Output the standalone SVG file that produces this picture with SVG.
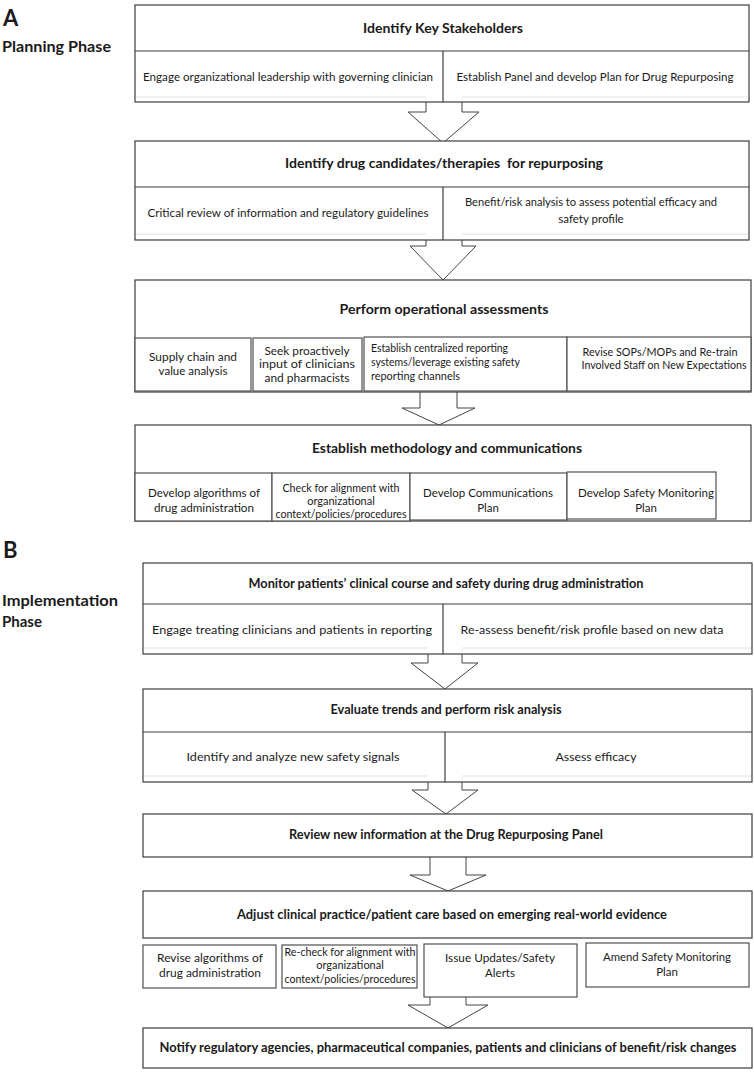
<svg xmlns="http://www.w3.org/2000/svg" width="754" height="1075" viewBox="0 0 754 1075">
<style>
.bx{fill:#fff;stroke:#3c3c3c;stroke-width:1.2}
.sb{fill:#fff;stroke:#505050;stroke-width:1.2}
.ln{stroke:#3c3c3c;stroke-width:1.2;fill:none}
.fl{stroke:#e2e2e2;stroke-width:1;fill:none}
.ar{fill:none;stroke:#444;stroke-width:1}
text{font-family:Lato,"Liberation Sans",Arial,sans-serif;fill:#1a1a1a}
.h{font-size:13px;font-weight:bold;text-anchor:middle}
.t{font-size:11.5px;text-anchor:middle}
.s{font-size:11px;text-anchor:middle}
.l{font-size:11px;text-anchor:start}
.lab{font-size:22px;font-weight:bold}
.ph{font-size:15px;font-weight:bold}
</style>
<rect width="754" height="1075" fill="#fff"/>

<g id="labels">
<text class="lab" x="3" y="26">A</text>
<text class="ph" x="2" y="52" textLength="109" lengthAdjust="spacingAndGlyphs">Planning Phase</text>
<text class="lab" x="3" y="558">B</text>
<text class="ph" x="2" y="606" textLength="116" lengthAdjust="spacingAndGlyphs">Implementation</text>
<text class="ph" x="2" y="627">Phase</text>
</g>

<g id="connectors">
<polyline class="ar" points="426,102 426,112 408,112 443,143 479,112 462,112 462,102"/>
<polyline class="ar" points="426,240 426,246 410,246 443,280 476,246 462,246 462,240"/>
<polyline class="ar" points="420,391 420,408 402,408 439,425 475,408 457,408 457,391"/>
<polyline class="ar" points="428,654 428,663 411,663 445,689 478,663 462,663 462,654"/>
<polyline class="ar" points="428,782 428,790 412,790 446,814 478,790 462,790 462,782"/>
<polyline class="ar" points="430,857 430,875 410,875 448,891 486,875 466,875 466,857"/>
<polyline class="ar" points="430,997 430,1005 408,1005 448,1028 488,1005 466,1005 466,997"/>
</g>

<g id="node-a1">
<rect class="bx" x="135" y="5" width="614" height="97"/>
<line class="ln" x1="135" y1="51" x2="749" y2="51"/>
<line class="ln" x1="443" y1="51" x2="443" y2="102"/>
<line class="fl" x1="136" y1="97" x2="426" y2="97"/>
<line class="fl" x1="462" y1="97" x2="748" y2="97"/>
<text class="h" x="443" y="33" textLength="160" lengthAdjust="spacingAndGlyphs">Identify Key Stakeholders</text>
<text class="t" x="288" y="81" textLength="290" lengthAdjust="spacingAndGlyphs">Engage organizational leadership with governing clinician</text>
<text class="t" x="595" y="81" textLength="277" lengthAdjust="spacingAndGlyphs">Establish Panel and develop Plan for Drug Repurposing</text>
</g>

<g id="node-a2">
<rect class="bx" x="135" y="141" width="614" height="99"/>
<line class="ln" x1="135" y1="187" x2="749" y2="187"/>
<line class="ln" x1="443" y1="187" x2="443" y2="240"/>
<line class="fl" x1="136" y1="234" x2="426" y2="234"/>
<line class="fl" x1="462" y1="234" x2="748" y2="234"/>
<text class="h" x="444" y="168" xml:space="preserve" textLength="318" lengthAdjust="spacingAndGlyphs">Identify drug candidates/therapies  for repurposing</text>
<text class="t" x="288" y="217" textLength="281" lengthAdjust="spacingAndGlyphs">Critical review of information and regulatory guidelines</text>
<text class="t" x="591" y="206" textLength="252" lengthAdjust="spacingAndGlyphs">Benefit/risk analysis to assess potential efficacy and</text>
<text class="t" x="591" y="223">safety profile</text>
</g>

<g id="node-a3">
<rect class="bx" x="135" y="280" width="616" height="112"/>
<text class="h" x="444" y="314" textLength="209" lengthAdjust="spacingAndGlyphs">Perform operational assessments</text>
<g id="node-a3-1">
<rect class="sb" x="135" y="338" width="116" height="53"/>
<text class="t" x="193" y="361" textLength="88" lengthAdjust="spacingAndGlyphs">Supply chain and</text>
<text class="t" x="193" y="375">value analysis</text>
</g>
<g id="node-a3-2">
<rect class="sb" x="253" y="338" width="109" height="53"/>
<text class="t" x="307" y="355" textLength="85" lengthAdjust="spacingAndGlyphs">Seek proactively</text>
<text class="t" x="307" y="368" textLength="96" lengthAdjust="spacingAndGlyphs">input of clinicians</text>
<text class="t" x="307" y="382" textLength="85" lengthAdjust="spacingAndGlyphs">and pharmacists</text>
</g>
<g id="node-a3-3">
<rect class="sb" x="364" y="337" width="203" height="54"/>
<text class="l" x="371" y="352" textLength="137" lengthAdjust="spacingAndGlyphs">Establish centralized reporting</text>
<text class="l" x="371" y="366" textLength="149" lengthAdjust="spacingAndGlyphs">systems/leverage existing safety</text>
<text class="l" x="371" y="380" textLength="89" lengthAdjust="spacingAndGlyphs">reporting channels</text>
</g>
<g id="node-a3-4">
<rect class="sb" x="567" y="337" width="184" height="54"/>
<text class="s" x="660" y="356" textLength="155" lengthAdjust="spacingAndGlyphs">Revise SOPs/MOPs and Re-train</text>
<text class="s" x="664" y="369" textLength="165" lengthAdjust="spacingAndGlyphs">Involved Staff on New Expectations</text>
</g>
</g>

<g id="node-a4">
<rect class="bx" x="135" y="425" width="616" height="96"/>
<text class="h" x="447" y="453" textLength="270" lengthAdjust="spacingAndGlyphs">Establish methodology and communications</text>
<g id="node-a4-1">
<rect class="sb" x="135" y="473" width="137" height="48"/>
<text class="t" x="204" y="497" textLength="112" lengthAdjust="spacingAndGlyphs">Develop algorithms of</text>
<text class="t" x="204" y="512" textLength="100" lengthAdjust="spacingAndGlyphs">drug administration</text>
</g>
<g id="node-a4-2">
<rect class="sb" x="272" y="473" width="138" height="48"/>
<text class="s" x="341" y="492" textLength="117" lengthAdjust="spacingAndGlyphs">Check for alignment with</text>
<text class="s" x="341" y="505">organizational</text>
<text class="s" x="341" y="518" textLength="131" lengthAdjust="spacingAndGlyphs">context/policies/procedures</text>
</g>
<g id="node-a4-3">
<rect class="sb" x="410" y="473" width="157" height="47"/>
<text class="t" x="488" y="497" textLength="130" lengthAdjust="spacingAndGlyphs">Develop Communications</text>
<text class="t" x="488" y="512">Plan</text>
</g>
<g id="node-a4-4">
<rect class="sb" x="567" y="472" width="149" height="47"/>
<text class="t" x="646" y="497" textLength="136" lengthAdjust="spacingAndGlyphs">Develop Safety Monitoring</text>
<text class="t" x="646" y="512">Plan</text>
</g>
</g>

<g id="node-b1">
<rect class="bx" x="143" y="563" width="609" height="91"/>
<line class="ln" x1="143" y1="604" x2="752" y2="604"/>
<line class="ln" x1="443" y1="604" x2="443" y2="654"/>
<line class="fl" x1="144" y1="648" x2="428" y2="648"/>
<line class="fl" x1="462" y1="648" x2="751" y2="648"/>
<text class="h" x="446" y="588" textLength="395" lengthAdjust="spacingAndGlyphs">Monitor patients’ clinical course and safety during drug administration</text>
<text class="t" x="292" y="634" textLength="280" lengthAdjust="spacingAndGlyphs">Engage treating clinicians and patients in reporting</text>
<text class="t" x="592" y="634" textLength="263" lengthAdjust="spacingAndGlyphs">Re-assess benefit/risk profile based on new data</text>
</g>

<g id="node-b2">
<rect class="bx" x="143" y="689" width="609" height="93"/>
<line class="ln" x1="143" y1="732" x2="752" y2="732"/>
<line class="ln" x1="445" y1="732" x2="445" y2="782"/>
<line class="fl" x1="144" y1="776" x2="428" y2="776"/>
<line class="fl" x1="462" y1="776" x2="751" y2="776"/>
<text class="h" x="446" y="714" textLength="231" lengthAdjust="spacingAndGlyphs">Evaluate trends and perform risk analysis</text>
<text class="t" x="293" y="761" textLength="213" lengthAdjust="spacingAndGlyphs">Identify and analyze new safety signals</text>
<text class="t" x="596" y="761" textLength="81" lengthAdjust="spacingAndGlyphs">Assess efficacy</text>
</g>

<g id="node-b3">
<rect class="bx" x="143" y="814" width="609" height="43"/>
<text class="h" x="446" y="839" textLength="314" lengthAdjust="spacingAndGlyphs">Review new information at the Drug Repurposing Panel</text>
</g>

<g id="node-b4">
<rect class="bx" x="143" y="891" width="609" height="47"/>
<text class="h" x="452" y="919" textLength="430" lengthAdjust="spacingAndGlyphs">Adjust clinical practice/patient care based on emerging real-world evidence</text>
</g>

<g id="node-b4-1">
<rect class="sb" x="143" y="945" width="133" height="43"/>
<text class="t" x="210" y="962" textLength="106" lengthAdjust="spacingAndGlyphs">Revise algorithms of</text>
<text class="t" x="210" y="977" textLength="102" lengthAdjust="spacingAndGlyphs">drug administration</text>
</g>
<g id="node-b4-2">
<rect class="sb" x="282" y="945" width="135" height="43"/>
<text class="s" x="350" y="956" textLength="131" lengthAdjust="spacingAndGlyphs">Re-check for alignment with</text>
<text class="s" x="350" y="969">organizational</text>
<text class="s" x="350" y="983" textLength="131" lengthAdjust="spacingAndGlyphs">context/policies/procedures</text>
</g>
<g id="node-b4-3">
<rect class="sb" x="424" y="944" width="153" height="53"/>
<text class="t" x="500" y="962" textLength="110" lengthAdjust="spacingAndGlyphs">Issue Updates/Safety</text>
<text class="t" x="500" y="977">Alerts</text>
</g>
<g id="node-b4-4">
<rect class="sb" x="586" y="943" width="163" height="44"/>
<text class="t" x="667" y="961" textLength="128" lengthAdjust="spacingAndGlyphs">Amend Safety Monitoring</text>
<text class="t" x="667" y="976">Plan</text>
</g>

<g id="node-b5">
<rect class="bx" x="143" y="1028" width="609" height="40"/>
<text class="h" x="448" y="1052" textLength="577" lengthAdjust="spacingAndGlyphs">Notify regulatory agencies, pharmaceutical companies, patients and clinicians of benefit/risk changes</text>
</g>
</svg>
